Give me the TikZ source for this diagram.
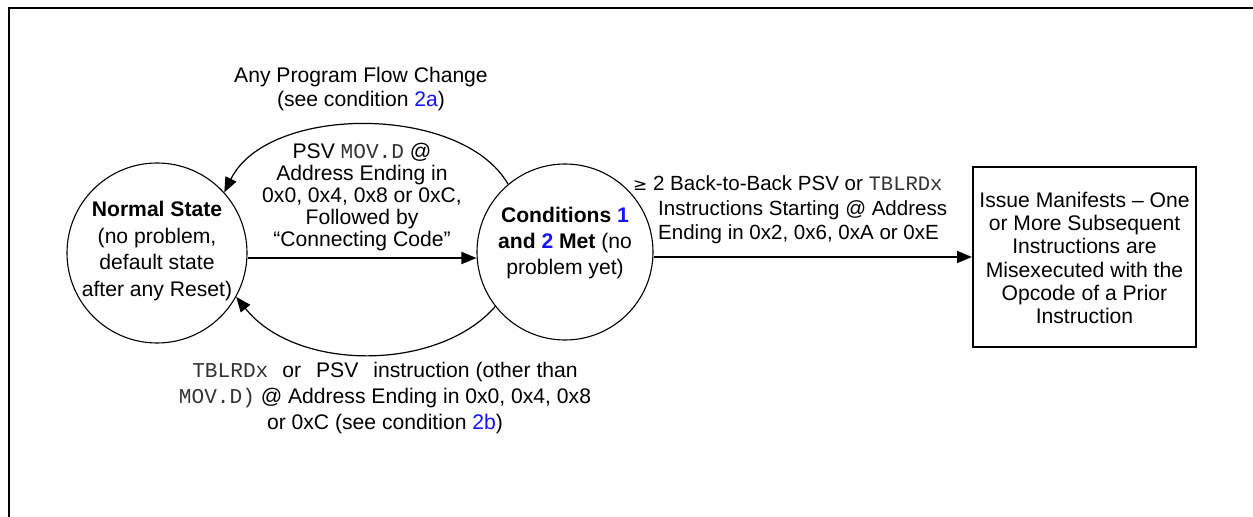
\documentclass[tikz,border=0pt]{standalone}
\usepackage{fontspec}
\setmainfont{Liberation Sans}
\setmonofont{Liberation Mono}
\usetikzlibrary{arrows.meta}
\definecolor{refblue}{RGB}{20,20,255}
\newcommand{\cd}[1]{{\ttfamily\color{black!80}#1}}
\newcommand{\bl}[1]{{\color{refblue}#1}}
\begin{document}
\begin{tikzpicture}[x=1bp,y=-1bp,
  every node/.style={font=\fontsize{21.2}{26.5}\selectfont},
  statecirc/.style={circle,draw,line width=1.1bp,inner sep=0pt,minimum size=#1,align=center},
  outbox/.style={draw,line width=2bp,inner sep=0pt,minimum width=223bp,minimum height=180bp,align=center},
  lbl/.style={align=center,inner sep=0pt},
  tip/.style={-{Triangle[length=15bp,width=12bp]}},
  arc/.style={tip,line width=1.2bp},
  straight/.style={tip,line width=1.8bp}]
\useasboundingbox (0,0) rectangle (1253,517);
\clip (0,0) rectangle (1253,517);
% outer frame
\draw[line width=2bp] (9,600) -- (9,7.8) -- (1300,7.8);

% states
\node[statecirc=180bp] (normal) at (157,253) {};
\node[lbl] (normaltxt) at (157,251)
  {\textbf{Normal State}\\(no problem,\\default state\\after any Reset)};
\node[statecirc=176bp] (cond) at (565,252) {};
\node[lbl] (condtxt) at (565,243)
  {\textbf{Conditions \bl{1}}\\\textbf{and \bl{2} Met} (no\\problem yet)};
\node[outbox] (issue) at (1084.5,257) {};
\node[lbl,font=\fontsize{21.2}{23.4}\selectfont] (issuetxt) at (1084.5,258)
  {Issue Manifests -- One\\or More Subsequent\\Instructions are\\Misexecuted with the\\Opcode of a Prior\\Instruction};

% transitions
\draw[straight] (normal.east |- 0,258) -- (cond.west |- 0,258);
\draw[straight] (cond.east |- 0,257) -- (issue.west |- 0,257);
\draw[arc] (cond.130) .. controls (462,104) and (268,104) .. (normal.42);
\draw[arc] (cond.218) .. controls (438,372) and (296,372) .. (normal.331);

% labels
\node[lbl,font=\fontsize{21.2}{25}\selectfont] (flowlbl) at (361,89) {Any Program Flow Change\\(see condition \bl{2a})};
\node[lbl,font=\fontsize{21.2}{22.2}\selectfont] (movlbl) at (362,197)
  {PSV \cd{MOV.D} @\\Address Ending in\\0x0, 0x4, 0x8 or 0xC,\\Followed by\\``Connecting Code''};
\node[lbl] (tbllbl) at (385,398)
  {\cd{TBLRDx}\hspace{14bp}or\hspace{15bp}PSV\hspace{15bp}instruction (other than\\\cd{MOV.D)} @ Address Ending in 0x0, 0x4, 0x8\\or 0xC (see condition \bl{2b})};
\begin{scope}[every node/.style={font=\fontsize{20.6}{25}\selectfont,anchor=west,inner sep=0pt}]
\node (btb1) at (633,183) {{\fontspec{DejaVu Sans}\fontsize{17}{20}\selectfont ≥} 2 Back-to-Back PSV or \cd{TBLRDx}};
\node (btb2) at (658,210) {Instructions Starting @ Address};
\node (btb3) at (658,234) {Ending in 0x2, 0x6, 0xA or 0xE};
\end{scope}
\end{tikzpicture}
\end{document}
